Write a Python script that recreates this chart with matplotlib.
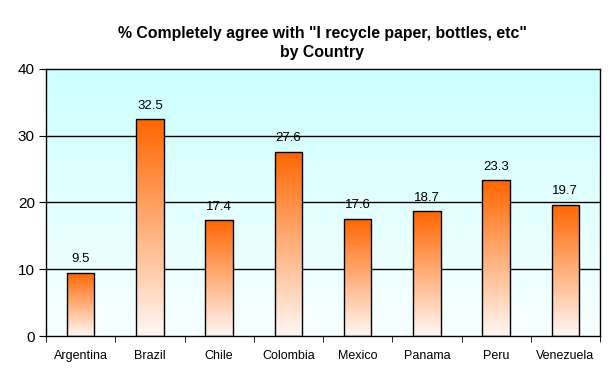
import numpy as np
import matplotlib
matplotlib.use('Agg')
import matplotlib.pyplot as plt
from matplotlib.colors import LinearSegmentedColormap

plt.rcParams['font.family'] = ['Liberation Sans', 'DejaVu Sans']

countries = ['Argentina', 'Brazil', 'Chile', 'Colombia', 'Mexico', 'Panama', 'Peru', 'Venezuela']
values = [9.5, 32.5, 17.4, 27.6, 17.6, 18.7, 23.3, 19.7]
title = '% Completely agree with "I recycle paper, bottles, etc"\nby Country'

fig = plt.figure(figsize=(6.12, 3.78), dpi=100)
ax = fig.add_axes([46/612, 1-336/378, (600-46)/612, (336-69)/378])

x = np.arange(len(countries))
ax.set_xlim(-0.5, len(countries)-0.5)
ax.set_ylim(0, 40)

# background gradient (cyan at top -> almost white at bottom)
bg = LinearSegmentedColormap.from_list('bg', ['#f8ffff', '#ccffff'])
grad = np.linspace(0, 1, 256).reshape(-1, 1)
ax.imshow(grad, cmap=bg, origin='lower', aspect='auto',
          extent=[-0.5, len(countries)-0.5, 0, 40], zorder=0)

for y in [10, 20, 30]:
    ax.axhline(y, color='black', lw=1, zorder=1)

# bars with their own orange -> white gradient
barcm = LinearSegmentedColormap.from_list('bar', ['#fff8f4', '#ff6600'])
bw = 0.4
bars = ax.bar(x, values, width=bw, facecolor='none', edgecolor='black', lw=1, zorder=3)
for b, v in zip(bars, values):
    im = ax.imshow(grad, cmap=barcm, origin='lower', aspect='auto',
                   extent=[b.get_x(), b.get_x()+bw, 0, v], zorder=2)
    im.set_clip_path(b)
    ax.text(b.get_x()+bw/2, v+1.1, f'{v:.1f}', ha='center', va='bottom', fontsize=9.5)

ax.set_xticks(x)
ax.set_xticklabels(countries, fontsize=9)
ax.set_xticks(np.arange(-0.5, len(countries)), minor=True)
ax.tick_params(axis='x', which='major', length=0, pad=10)
ax.tick_params(axis='x', which='minor', length=4, direction='out')
ax.set_yticks([0, 10, 20, 30, 40])
ax.tick_params(axis='y', labelsize=11, length=5, direction='out', pad=3)
ax.set_xlim(-0.5, len(countries)-0.5)
ax.set_ylim(0, 40)
for s in ax.spines.values():
    s.set_color('black')
    s.set_linewidth(1)
    s.set_zorder(4)

fig.text(322/612, 1-43/378, title, ha='center', va='center', fontsize=11.4,
         fontweight='bold', linespacing=1.4)

fig.savefig('out.png', dpi=100)
